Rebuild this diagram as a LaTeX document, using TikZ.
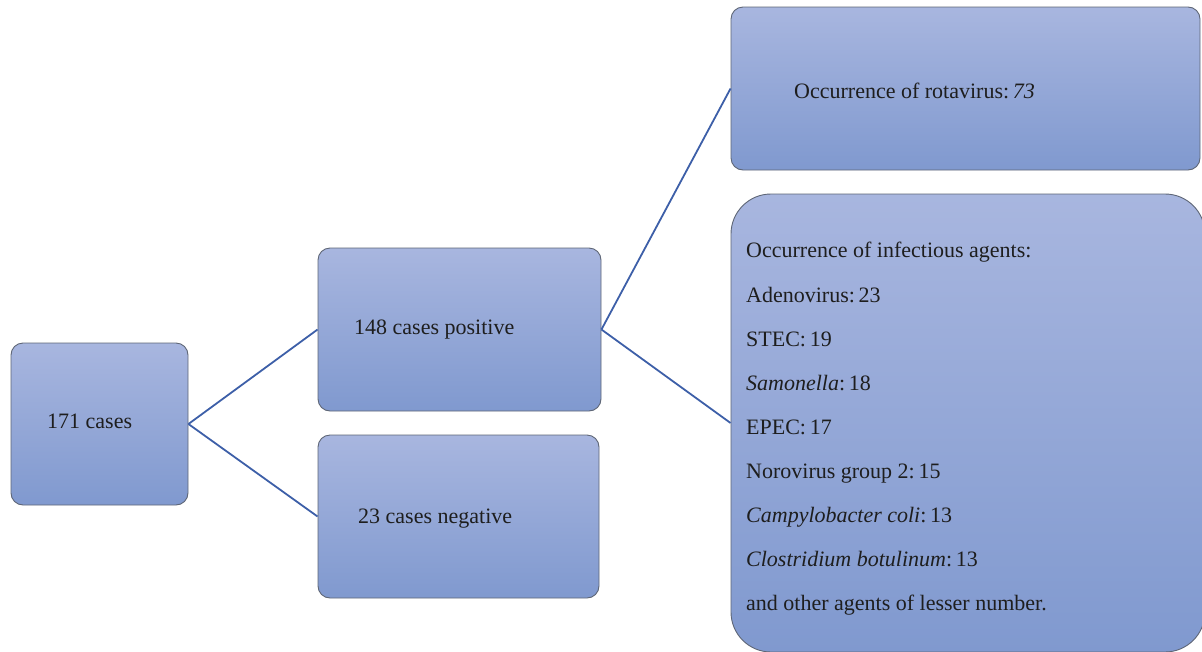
\documentclass[tikz,border=0pt]{standalone}
\usepackage{fontspec}
\setmainfont{Liberation Serif}
\begin{document}
\begin{tikzpicture}[x=1pt,y=-1pt,
  box/.style={draw=boxedge, line width=0.9pt, top color=boxtop, bottom color=boxbot, rounded corners=12pt, inner sep=0pt, minimum width=#1},
  tag/.style={anchor=base west, inner sep=0pt, text=txt, font=\fontsize{22}{24}\selectfont},
  link/.style={draw=linkblue, line width=1.8pt}]
\definecolor{boxtop}{HTML}{A8B6DF}
\definecolor{boxbot}{HTML}{8099CF}
\definecolor{boxedge}{HTML}{5E6676}
\definecolor{linkblue}{HTML}{3D5FA8}
\definecolor{txt}{HTML}{1E1E1E}
\useasboundingbox (0,0) rectangle (1202,651);
\clip (0,0) rectangle (1202,651);
\node[box=177pt, minimum height=162pt] (all) at (99.5,424) {};
\node[box=283pt, minimum height=163pt] (pos) at (459.5,329.5) {};
\node[box=281pt, minimum height=163pt] (neg) at (458.5,516.5) {};
\node[box=469pt, minimum height=163pt] (rota) at (965.5,88.5) {};
\node[box=474pt, minimum height=458pt, rounded corners=40pt] (agents) at (968,423) {};
\draw[link] (all.east) -- (pos.west);
\draw[link] (all.east) -- (neg.west);
\draw[link] (pos.east) -- (rota.west);
\draw[link] (pos.east) -- (agents.west);
\node[tag] (t1) at (47,428) {171 cases};
\node[tag] (t2) at (354,334) {148 cases positive};
\node[tag] (t3) at (358,523) {23 cases negative};
\node[tag] (t4) at (794,98) {Occurrence of rotavirus:\,\textit{73}};
\node[tag] (a0) at (746,257) {Occurrence of infectious agents:};
\node[tag] (a1) at (746,302) {Adenovirus:\,23};
\node[tag] (a2) at (746,346) {STEC:\,19};
\node[tag] (a3) at (746,390) {\textit{Samonella}:\,18};
\node[tag] (a4) at (746,434) {EPEC:\,17};
\node[tag] (a5) at (746,478) {Norovirus group 2:\,15};
\node[tag] (a6) at (746,522) {\textit{Campylobacter coli}:\,13};
\node[tag] (a7) at (746,566) {\textit{Clostridium botulinum}:\,13};
\node[tag] (a8) at (746,610) {and other agents of lesser number.};
\end{tikzpicture}
\end{document}
